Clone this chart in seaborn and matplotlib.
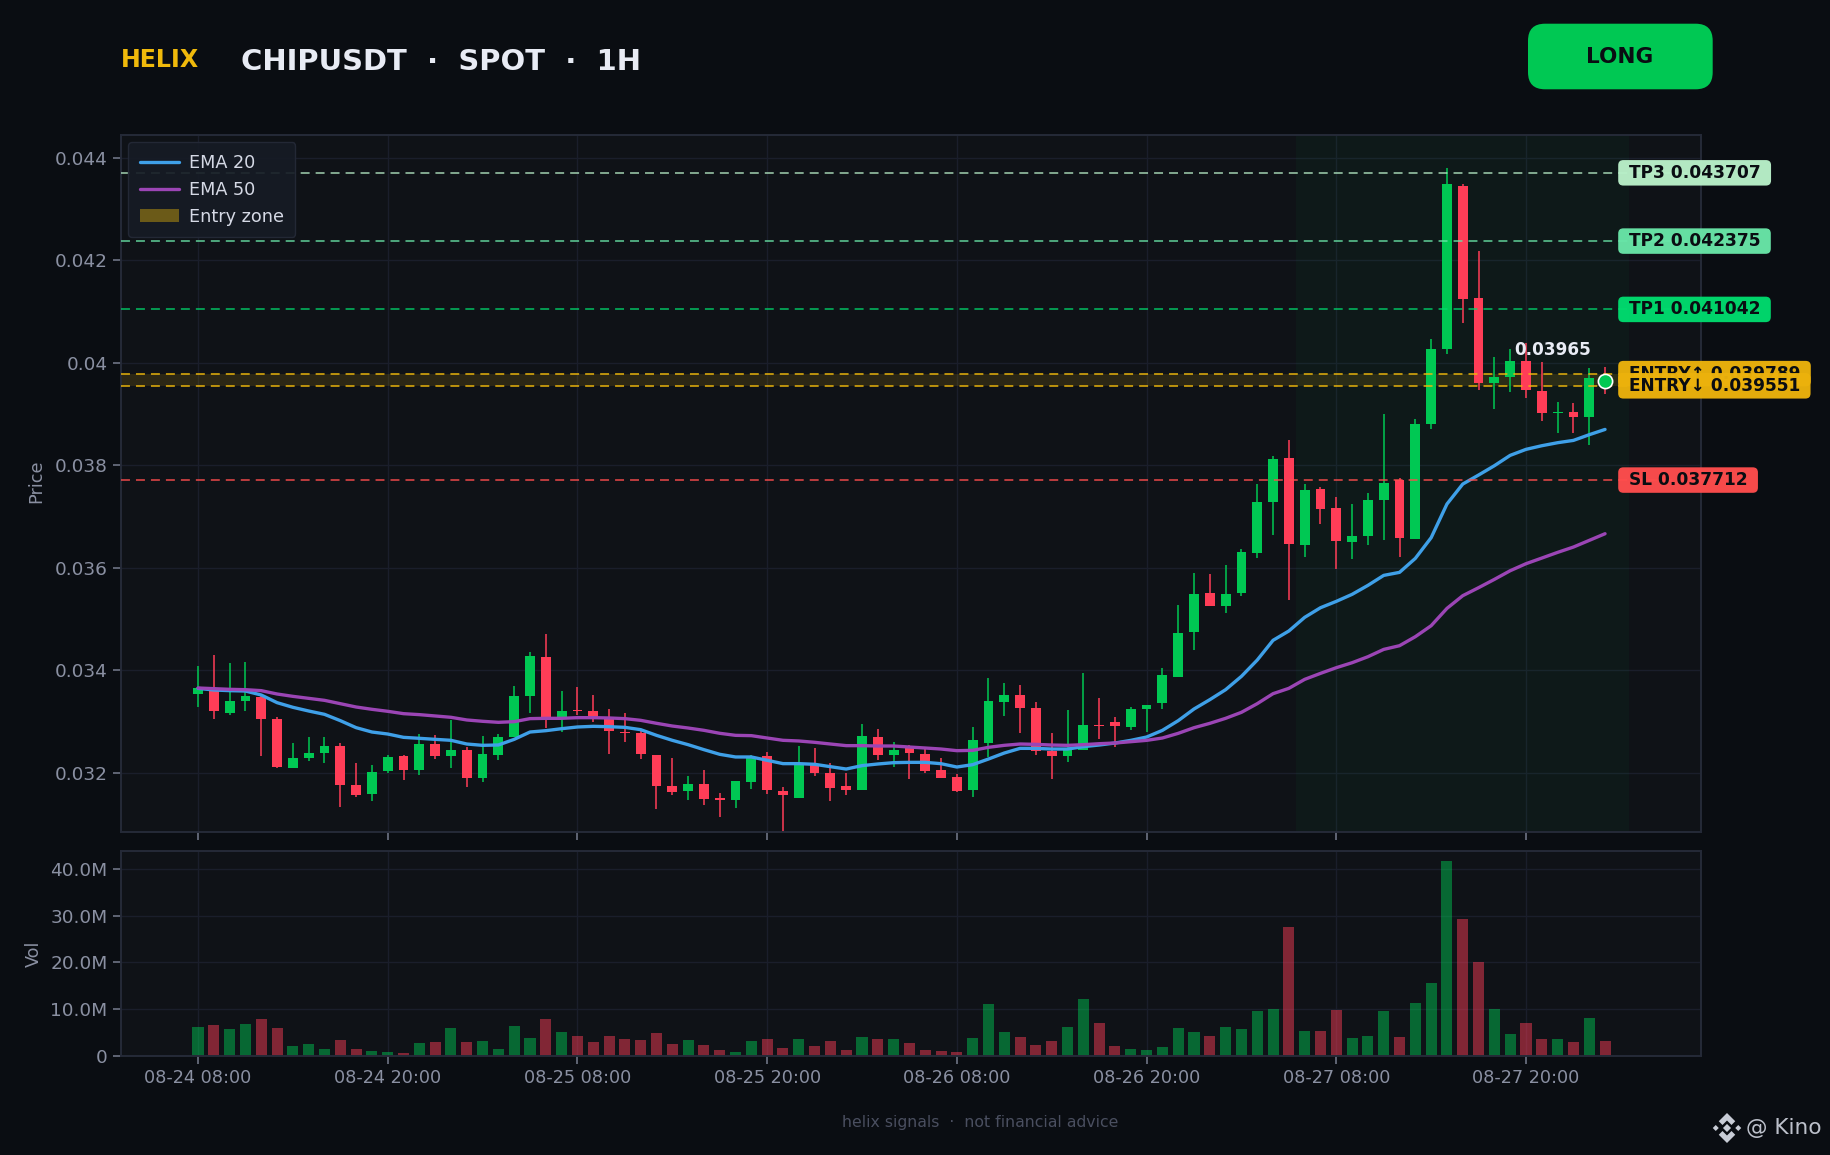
import matplotlib
matplotlib.use("Agg")
import matplotlib.pyplot as plt
from matplotlib.patches import BoxStyle, FancyBboxPatch, Polygon, Patch
import numpy as np
import pandas as pd
import seaborn as sns

# ---- data (values x 1e-6 USDT, volumes in millions) ----
open_ = [33538,33616,33167,33401,33479,33050,32094,32289,32387,32523,31762,31587,32035,32328,32055,32562,32328,32445,31899,32348,32699,
         33499,34260,33089,33226,33206,33089,32796,32777,32348,31743,31645,31782,31509,31470,31821,32328,31645,31509,32153,31996,31743,31665,32699,32348,
         32490,32367,32054,31918,31664,32581,33381,33518,33264,32425,32328,32445,32933,32991,32894,33245,33362,33869,34747,35508,35254,35508,
         36288,37283,38142,36444,37537,37166,36503,36620,37322,37712,36561,38805,40268,43449,41263,39605,39722,40034,39449,39019,39039,38941,39702]
close_ = [33655,33206,33401,33499,33050,32113,32289,32387,32523,31762,31567,32016,32309,32055,32562,32328,32445,31899,32367,32699,33499,
          34279,33070,33206,33206,33089,32816,32776,32367,31743,31626,31782,31489,31470,31840,32289,31665,31567,32153,31996,31704,31665,32718,32348,32445,
          32386,32035,31898,31645,32640,33401,33518,33264,32425,32328,32445,32933,32920,32913,33245,33323,33908,34728,35489,35254,35489,36308,
          37283,38122,36464,37517,37147,36522,36620,37322,37654,36581,38805,40268,43488,41244,39605,39722,40034,39468,39019,39039,38941,39702,39650]
high_ = [34084,34299,34143,34162,33518,33089,32582,32699,32699,32582,32192,32153,32348,32348,32757,32738,33031,32504,32718,32757,33694,
         34357,34709,33596,33674,33518,33245,33167,32816,32348,32289,31938,32055,31606,31840,32348,32406,31723,32523,32484,32192,31996,32953,32855,32601,
         32542,32477,32289,31976,32894,33850,33752,33713,33381,32776,33225,33947,33459,33089,33284,33323,34045,35274,35898,35879,36054,36374,
         37634,38181,38493,37634,37576,37381,37244,37459,39000,37751,38896,40457,43793,43488,42180,40112,40268,40392,40014,39234,39215,39898,39917]
low_ = [33284,33050,33128,33206,32328,32094,32094,32231,32192,31333,31528,31450,31996,31860,31957,32270,32094,31723,31821,32250,32699,
        33167,32874,32796,33128,32992,32367,32601,32270,31294,31567,31470,31372,31138,31314,31684,31587,30800,31509,31938,31450,31567,31665,32250,32113,
        31879,31996,31898,31625,31528,32308,33108,32776,32347,31879,32211,32445,32659,32503,32835,32796,33245,33869,34396,35254,35118,35450,
        36190,36639,35371,36210,36854,35976,36171,36444,36542,36210,36561,38707,40170,40775,39468,39097,39429,39312,38863,38629,38629,38395,39390]
ema20 = [33648,33616,33603,33596,33518,33369,33278,33206,33141,33018,32881,32796,32757,32692,32673,32653,32634,32562,32536,32543,32653,
         32796,32822,32861,32894,32907,32900,32887,32842,32731,32634,32549,32452,32361,32309,32309,32244,32179,32179,32166,32120,32074,32140,32172,32198,
         32204,32204,32178,32113,32159,32269,32386,32477,32477,32464,32464,32510,32542,32581,32633,32698,32828,33017,33245,33427,33622,33882,
         34200,34585,34767,35033,35221,35345,35482,35657,35852,35911,36184,36587,37244,37634,37810,37992,38194,38311,38382,38441,38486,38597,38700]
ema50 = [33655,33642,33629,33622,33603,33538,33492,33453,33414,33349,33284,33239,33200,33154,33135,33109,33083,33031,33005,32985,32998,
         33057,33063,33063,33076,33076,33070,33057,33024,32966,32913,32874,32829,32771,32731,32725,32679,32634,32621,32595,32562,32530,32530,32523,32523,
         32503,32484,32464,32432,32438,32497,32536,32562,32555,32542,32536,32549,32568,32581,32607,32633,32679,32770,32880,32965,33063,33180,
         33349,33544,33648,33823,33940,34051,34148,34265,34408,34480,34656,34870,35208,35456,35612,35774,35943,36080,36190,36301,36405,36535,36665]
volume = [6.2,6.6,5.8,6.8,7.9,6.0,2.1,2.6,1.5,3.4,1.5,1.1,0.9,0.6,2.8,3.0,6.0,3.0,3.2,1.5,6.4,3.8,7.9,5.1,4.3,3.0,4.3,3.6,3.4,4.9,2.6,3.4,2.4,1.3,0.9,3.2,3.6,1.7,3.6,2.1,3.2,1.3,4.1,3.6,3.6,2.8,1.3,1.1,0.9,
          3.8,11.1,5.1,4.1,2.4,3.2,6.2,12.2,7.1,2.1,1.5,1.3,1.9,6.0,5.1,4.3,6.2,5.8,9.6,10.0,27.6,5.3,5.3,9.8,3.8,4.3,9.6,4.1,11.3,15.6,41.7,29.3,20.1,10.0,4.7,7.1,3.6,3.6,3.0,8.1,3.2]
tick_hours = [0,12,24,36,48,60,72,84]
tick_labels = ["08-24 08:00","08-24 20:00","08-25 08:00","08-25 20:00","08-26 08:00","08-26 20:00","08-27 08:00","08-27 20:00"]
tp3, tp2, tp1 = 0.043707, 0.042375, 0.041042
entry_hi, entry_lo, stop = 0.039789, 0.039551, 0.037712
last_price = 0.03965
zone_span = (69.45, 90.5)

BG = "#0a0d12"; PANEL = "#0f1217"; GRID = "#1a1e2b"; SPINE = "#252a38"; TXT = "#8a90a2"
GREEN = "#00c853"; RED = "#ff3d57"; BLUE = "#3fa0e8"; PURPLE = "#9b45b5"; GOLD = "#f0b90b"
W, H = 1830, 1155
XLIM = (-4.89, 95.07)
FS = 12.7

sns.set_theme(style="dark")
plt.rcParams["font.family"] = ["DejaVu Sans"]

df = pd.DataFrame({"i": np.arange(len(close_)), "open": np.array(open_)*1e-6, "close": np.array(close_)*1e-6,
                   "high": np.array(high_)*1e-6, "low": np.array(low_)*1e-6,
                   "ema20": np.array(ema20)*1e-6, "ema50": np.array(ema50)*1e-6, "vol": np.array(volume)*1e6})
df["dir"] = np.where(df.close >= df.open, "up", "down")

fig = plt.figure(figsize=(W/100, H/100), dpi=100, facecolor=BG)
def axbox(l, t, r, b):
    return [l/W, 1-b/H, (r-l)/W, (b-t)/H]
ax = fig.add_axes(axbox(120.7, 135, 1701, 832))
av = fig.add_axes(axbox(120.7, 850.7, 1701, 1056), sharex=ax)

for a in (ax, av):
    a.set_facecolor(PANEL)
    a.grid(True, color=GRID, lw=1.0)
    a.set_axisbelow(True)
    for s in a.spines.values():
        s.set_color(SPINE); s.set_linewidth(1.4)
    a.tick_params(colors=TXT, labelsize=FS, length=6, width=1.2, color="#6e7485", left=True, bottom=True)
    a.tick_params(axis="y", labelsize=13.3)

ax.axvspan(*zone_span, color=GREEN, alpha=0.045, lw=0, zorder=1)
ax.axhspan(entry_lo, entry_hi, color=GOLD, alpha=0.13, lw=0, zorder=1.5)

c = df.dir.map({"up": GREEN, "down": RED})
ax.vlines(df.i, df.low, df.high, colors=c, lw=1.1, zorder=2)
ax.bar(df.i, (df.close-df.open).abs(), bottom=df[["open","close"]].min(axis=1), width=0.62, color=c, lw=0, zorder=2.2)

sns.lineplot(data=df, x="i", y="ema20", ax=ax, color=BLUE, lw=2.4, label="EMA 20", zorder=3)
sns.lineplot(data=df, x="i", y="ema50", ax=ax, color=PURPLE, lw=2.4, label="EMA 50", zorder=3)

dash = (0, (4.6, 3.1))
for val, col, a_ in [(tp3, "#b9f0c9", .68), (tp2, "#69e6a8", .7), (tp1, "#00db6e", .68), (stop, "#ff4d4d", .72)]:
    ax.axhline(val, color=col, alpha=a_, lw=1.4, ls=dash, zorder=4)
ax.axhline(entry_hi, color=GOLD, alpha=.75, lw=1.4, ls=dash, zorder=4)
ax.axhline(entry_lo, color=GOLD, alpha=.75, lw=1.4, ls=dash, zorder=4)

def tag_box(x0, y0, w, h, mutation_size):
    px, py = 0.62*mutation_size, 0.22*mutation_size
    return BoxStyle.Round(pad=0, rounding_size=0.3)(x0-px, y0-py, w+2*px, h+2*py, mutation_size)

for name, val, col in [("TP3", tp3, "#b9f0c9"), ("TP2", tp2, "#69e6a8"), ("TP1", tp1, "#00db6e"),
                       ("ENTRY↑", entry_hi, "#ecb20c"), ("ENTRY↓", entry_lo, "#ecb20c"), ("SL", stop, "#ff4d4d")]:
    ax.text(zone_span[1], val, f"{name} {val:.6f}", color="#0a0d12", fontsize=12.25, fontweight="bold", va="center", ha="left",
            zorder=6, clip_on=False, bbox=dict(boxstyle=tag_box, fc=col, ec="none", alpha=.97))

ax.scatter([89], [last_price], s=105, color=GREEN, edgecolor="white", lw=1.2, zorder=5)
ax.annotate(f"{last_price:.5f}", xy=(89, last_price), xytext=(-38, 22), textcoords="offset points", color="#e8ebf4",
            fontsize=12.2, fontweight="bold", ha="center", va="center", zorder=6)

ax.set_xlim(*XLIM)
ax.set_ylim(0.030845, 0.044445)
ax.set_xticks(tick_hours)
ax.tick_params(labelbottom=False)
ax.set_yticks([0.032,0.034,0.036,0.038,0.04,0.042,0.044])
ax.set_yticklabels(["0.032","0.034","0.036","0.038","0.04","0.042","0.044"])
ax.set_xlabel("")
ax.set_ylabel("Price", color=TXT, fontsize=FS, labelpad=6.5, y=0.503)

h_, l_ = ax.get_legend_handles_labels()
h_ = list(h_) + [Patch(facecolor="#6b5a18", edgecolor="none")]
l_ = list(l_) + ["Entry zone"]
leg = ax.legend(h_, l_, loc="upper left", bbox_to_anchor=(0.0, 1.0), fontsize=FS, frameon=True, labelspacing=0.5,
                borderpad=0.65, handletextpad=0.55, facecolor="#161b25", edgecolor=SPINE, framealpha=.92,
                labelcolor="#d5d9e5", handlelength=2.25, borderaxespad=0.42)

sns.barplot(data=df, x="i", y="vol", hue="dir", palette={"up": GREEN, "down": RED}, native_scale=True, dodge=False,
            width=0.7, alpha=.48, legend=False, ax=av, lw=0, err_kws={"lw": 0}, saturation=1, zorder=2)
av.set_xticks(tick_hours)
av.set_xticklabels(tick_labels)
av.set_xlim(*XLIM)
av.set_ylim(0, 43.9e6)
av.set_yticks([0,1e7,2e7,3e7,4e7])
av.set_yticklabels(["0","10.0M","20.0M","30.0M","40.0M"])
av.set_xlabel("")
av.set_ylabel("Vol", color=TXT, fontsize=FS, labelpad=5.5)
for t in av.get_xticklabels():
    t.set_color(TXT)

fig.text(121/W, 1-60/H, "HELIX", color=GOLD, fontsize=17.1, fontweight="bold", va="center", ha="left")
fig.text(240.5/W, 1-62/H, "CHIPUSDT  ·  SPOT  ·  1H", color="#e8ebf4", fontsize=20.9, fontweight="bold", va="center", ha="left")
fig.add_artist(FancyBboxPatch((1528+16, H-89.3+16), 184.7-32, 65.6-32, boxstyle="round,pad=16,rounding_size=17",
                              transform=None, fc=GREEN, ec="none"))
fig.text(1620/W, 1-57/H, "LONG", color="#0a0d12", fontsize=15.5, fontweight="bold", va="center", ha="center")
fig.text(980/W, 1-1122/H, "helix signals  ·  not financial advice", color="#4a4f60", fontsize=11.3, va="center", ha="center")
fig.text(1746/W, 1-1128.5/H, "@ Kino", color="#bcc0ca", fontsize=15.6, va="center", ha="left")

# watermark glyph: diamond mark built from five small shapes
cx, cy, R = 1727, H-1128, 15
LOGO = [[(0,.27),(.27,0),(0,-.27),(-.27,0)],
        [(-.75,.2),(-.55,0),(-.75,-.2),(-.95,0)],
        [(.75,.2),(.95,0),(.75,-.2),(.55,0)],
        [(0,1),(.55,.45),(.3,.2),(0,.5),(-.3,.2),(-.55,.45)],
        [(0,-1),(.55,-.45),(.3,-.2),(0,-.5),(-.3,-.2),(-.55,-.45)]]
for poly in LOGO:
    fig.add_artist(Polygon([(cx+R*px, cy+R*py) for px, py in poly], closed=True, transform=None, fc="#c8ccd6", ec="none"))

fig.savefig("out.png", dpi=100, facecolor=BG)
